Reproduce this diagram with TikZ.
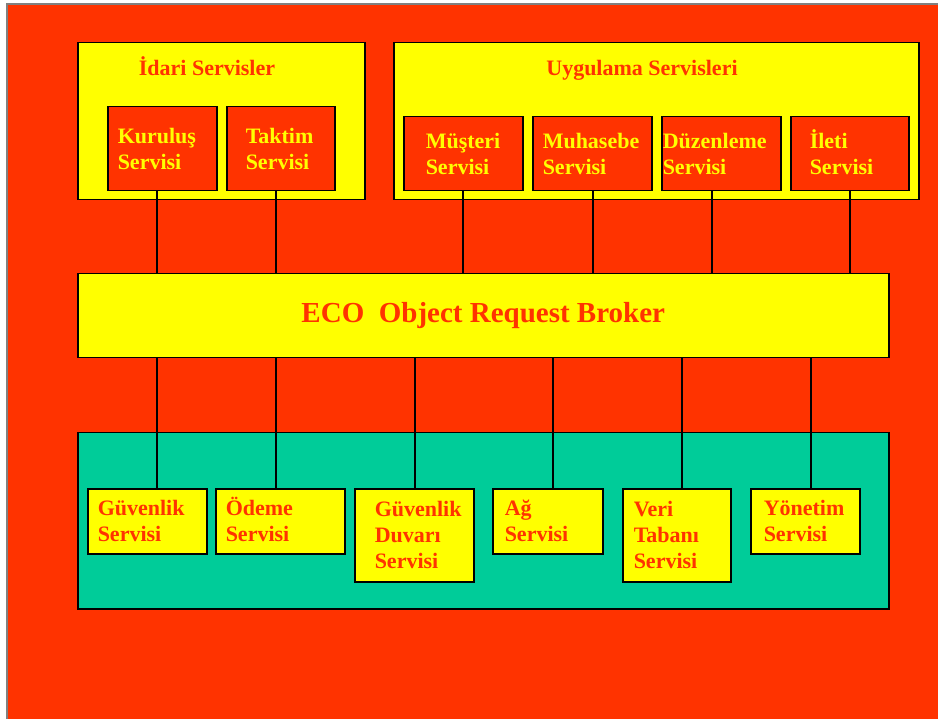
\documentclass[tikz,border=0pt]{standalone}
\usepackage{fontspec}
\setmainfont{Liberation Serif}
\usetikzlibrary{positioning}

\definecolor{ecored}{HTML}{FF3300}
\definecolor{ecoyellow}{HTML}{FFFF00}
\definecolor{ecogreen}{HTML}{00CC99}

\tikzset{
  svc/.style={draw=black, line width=1.5pt, anchor=north west, align=left, inner ysep=0pt,
    font=\fontsize{22}{26}\selectfont\bfseries,
    execute at begin node={\rule{0pt}{21pt}}, execute at end node={\rule[-6pt]{0pt}{0pt}}},
  redsvc/.style={svc, fill=ecored, text=ecoyellow},
  yelsvc/.style={svc, fill=ecoyellow, text=ecored},
  group/.style={draw=black, line width=1.5pt, anchor=north west, inner sep=0pt},
  title/.style={anchor=base, text=ecored, font=\fontsize{22}{26}\selectfont\bfseries},
  link/.style={draw=black, line width=1.5pt}
}

\begin{document}
\begin{tikzpicture}[x=1pt, y=-1pt]

\useasboundingbox (0,0) rectangle (938,719);
\fill[white] (0,0) rectangle (938,719);
\fill[ecored] (7,4) rectangle (938,719);
\draw[gray, line width=1.5pt] (7,719) -- (7,4) -- (938,4);

% groups
\node[group, fill=ecoyellow, minimum width=287pt, minimum height=157pt] (idari) at (77,42) {};
\node[group, fill=ecoyellow, minimum width=525pt, minimum height=157pt] (uygulama) at (393,42) {};
\node[group, fill=ecoyellow, minimum width=811pt, minimum height=84pt, text=ecored,
  font=\fontsize{29}{34}\selectfont\bfseries] (orb) at (77,273) {ECO\ \ Object Request Broker};
\node[group, fill=ecogreen, minimum width=811pt, minimum height=176pt] (temel) at (77,432) {};

\node[title] (idaribaslik) at (207,76) {İdari Servisler};
\node[title] (uygulamabaslik) at (642,76) {Uygulama Servisleri};

% upper services
\foreach \name/\x/\y/\w/\h/\pad/\txt in {
    kurulus/107/106/109/84/10/{Kuruluş\\Servisi},
    taktim/226/106/108/84/19/{Taktim\\Servisi},
    musteri/403/116/119/74/22/{Müşteri\\Servisi},
    muhasebe/532/116/119/74/10/{Muhasebe\\Servisi},
    duzenleme/661/116/119/74/1/{Düzenleme\\Servisi},
    ileti/790/116/118/74/19/{İleti\\Servisi}} {
    \pgfmathsetmacro{\tw}{\w-2*\pad}
    \node[redsvc, minimum width=\w pt, minimum height=\h pt, text width=\tw pt, inner xsep=\pad pt]
      (\name) at (\x,\y) {\txt};
}

% lower services
\foreach \name/\x/\w/\h/\pad/\txt in {
    guvenlik/87/119/65/10/{Güvenlik\\Servisi},
    odeme/215/129/65/10/{Ödeme\\Servisi},
    duvar/354/119/93/20/{Güvenlik\\Duvarı\\Servisi},
    ag/492/110/65/12/{Ağ\\Servisi},
    veri/622/108/93/11/{Veri\\Tabanı\\Servisi},
    yonetim/750/109/65/13/{Yönetim\\Servisi}} {
    \pgfmathsetmacro{\tw}{\w-2*\pad}
    \node[yelsvc, minimum width=\w pt, minimum height=\h pt, text width=\tw pt, inner xsep=\pad pt]
      (\name) at (\x,488) {\txt};
}

\foreach \name/\dx in {kurulus/-5.5, taktim/-5, musteri/-0.5, muhasebe/0.5, duzenleme/-9.5, ileti/0} {
    \draw[link] ([xshift=\dx pt]\name.south) -- ([xshift=\dx pt]\name.south |- orb.north);
}

\foreach \name/\dx in {guvenlik/9.5, odeme/-4.5, duvar/0.5, ag/5, veri/5, yonetim/5.5} {
    \draw[link] ([xshift=\dx pt]\name.north |- orb.south) -- ([xshift=\dx pt]\name.north);
}

\end{tikzpicture}
\end{document}
